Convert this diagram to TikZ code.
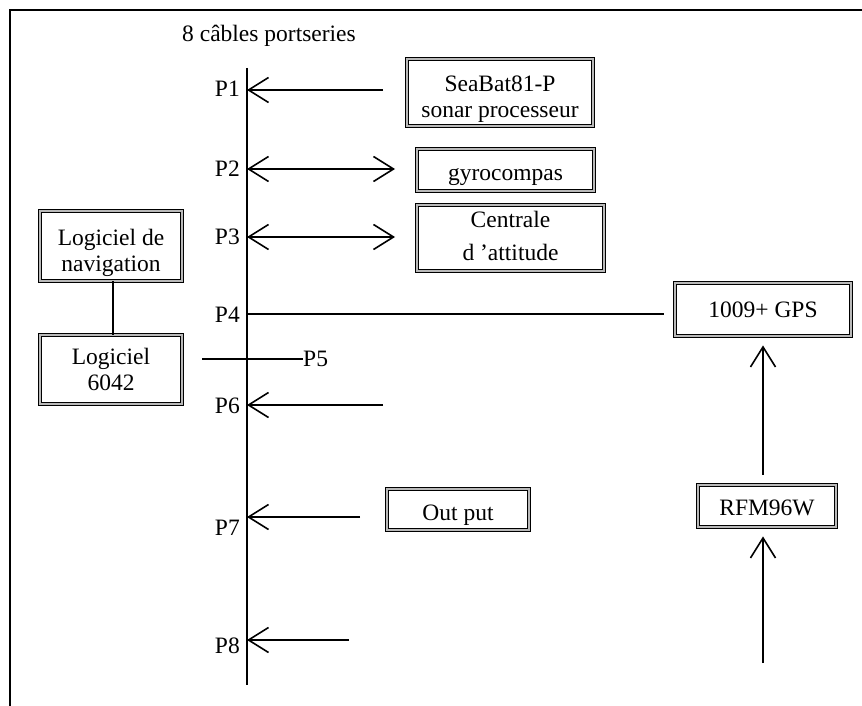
\documentclass[tikz,border=0pt]{standalone}
\usepackage{fontspec}
\setmainfont{Liberation Serif}
\usetikzlibrary{arrows.meta}
\newcommand\boxtext[2]{\raisebox{#1}[\height][\depth]{\begin{tabular}{@{}c@{}}#2\end{tabular}}}
\begin{document}
\begin{tikzpicture}[x=1pt,y=1pt,
  every node/.style={font=\fontsize{23.5}{26}\selectfont},
  box/.style={draw=black, double=gray!55, double distance=1.4pt, line width=0.9pt, inner sep=0pt},
  wire/.style={line width=1.6pt},
  barb/.style={wire, -{Straight Barb[length=20pt,width=25pt]}},
  dbarb/.style={wire, {Straight Barb[length=20pt,width=25pt]}-{Straight Barb[length=20pt,width=25pt]}},
  plabel/.style={inner sep=0pt, anchor=east}
]
\useasboundingbox (0,0) rectangle (862,-706);
% frame
\draw[wire] (862,-10) -- (10,-10) -- (10,-706);

% title
\node (title) at (269,-36) {8 câbles portseries};

% bus
\coordinate (bustop) at (247,-68);
\coordinate (busbot) at (247,-685);
\draw[wire] (bustop) -- (busbot);

\foreach \i/\y in {1/-90,2/-169,3/-237,4/-314,6/-405,7/-517,8/-640}
  \coordinate (p\i) at (247,\y);

% labels
\node[plabel] (l1) at (240,-89) {P1};
\node[plabel] (l2) at (240,-169) {P2};
\node[plabel] (l3) at (240,-237) {P3};
\node[plabel] (l4) at (240,-315) {P4};
\node[plabel] (l6) at (240,-406) {P6};
\node[plabel] (l7) at (240,-528) {P7};
\node[plabel] (l8) at (240,-646) {P8};

% boxes
\node[box, minimum width=186, minimum height=67] (seabat) at (500,-92.5) {\boxtext{-7pt}{SeaBat81-P\\sonar processeur}};
\node[box, minimum width=177, minimum height=42] (gyro) at (505.5,-170) {\boxtext{-5pt}{gyrocompas}};
\node[box, minimum width=187, minimum height=66] (centrale) at (510.5,-238) {\boxtext{-1pt}{Centrale\\[7pt]d ’attitude}};
\node[box, minimum width=142, minimum height=70] (nav) at (111,-246) {\boxtext{-7pt}{Logiciel de\\navigation}};
\node[box, minimum width=142, minimum height=69] (log) at (111,-369.5) {\boxtext{-3pt}{Logiciel\\6042}};
\node[box, minimum width=176, minimum height=53] (gps) at (763,-309.5) {\boxtext{-3pt}{1009+ GPS}};
\node[box, minimum width=142, minimum height=41] (out) at (458,-509.5) {\boxtext{-6pt}{Out put}};
\node[box, minimum width=138, minimum height=42] (rfm) at (767,-506) {\boxtext{-4pt}{RFM96W}};

% free ends
\coordinate (a1) at (383,-90);
\coordinate (a2) at (395,-169);
\coordinate (a3) at (395,-237);
\coordinate (a6) at (383,-405);
\coordinate (a7) at (360,-517);
\coordinate (a8) at (349,-640);
\coordinate (p5a) at (202,-359);
\coordinate (p5b) at (303,-359);
\coordinate (rfmin) at (763,-663);

% connectors
\draw[barb] (a1) -- (p1);
\draw[dbarb] (p2) -- (a2);
\draw[dbarb] (p3) -- (a3);
\draw[wire, shorten >=11pt] (p4) -- (p4 -| gps.west);
\draw[wire] (p5a) -- (p5b);
\node[inner sep=0pt, anchor=west] (l5) at (p5b) {P5};
\draw[barb] (a6) -- (p6);
\draw[barb] (a7) -- (p7);
\draw[barb] (a8) -- (p8);
\draw[wire] (nav.south -| 113,0) -- (log.north -| 113,0);
\draw[barb, shorten <=10pt, shorten >=9pt] (rfm.north -| gps.south) -- (gps.south);
\draw[barb, shorten >=9pt] (rfmin) -- (rfm.south -| rfmin);
\end{tikzpicture}
\end{document}
